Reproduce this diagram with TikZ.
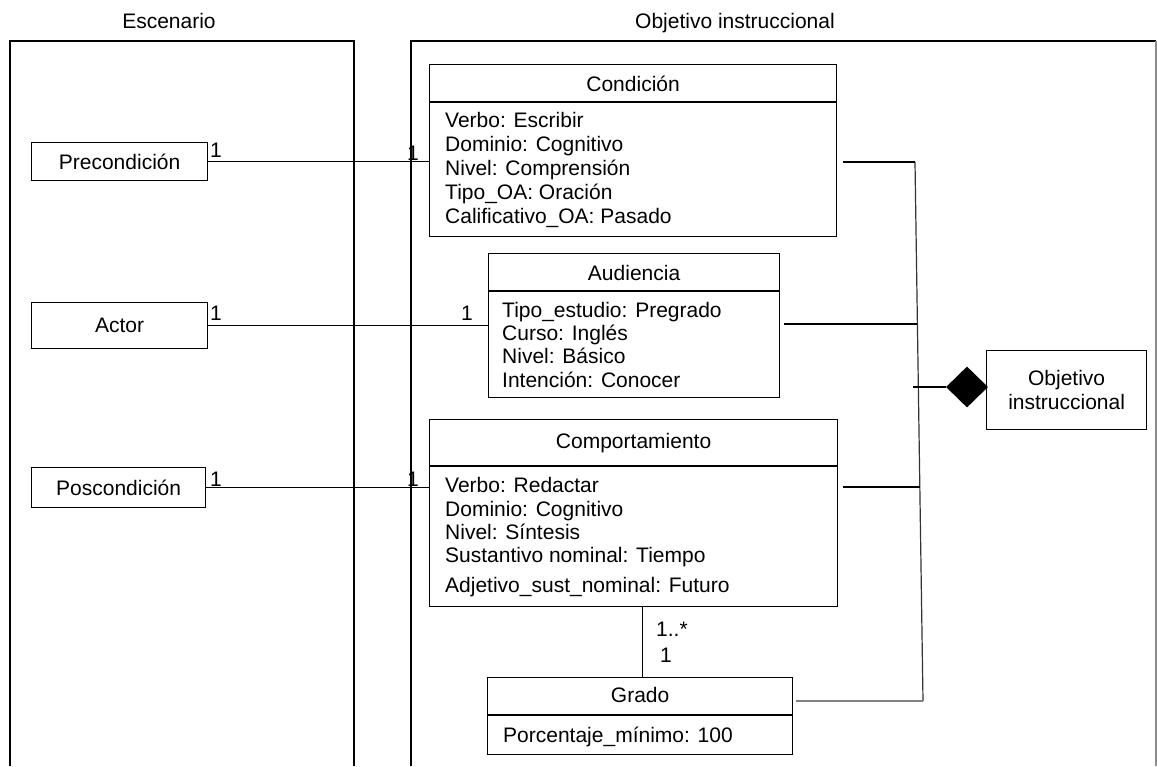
\documentclass[tikz,border=0pt]{standalone}
\usepackage{fontspec}
\setmainfont{Liberation Sans}
\usetikzlibrary{shapes.geometric}

\tikzset{
    every node/.style={font=\fontsize{21}{24}\selectfont},
    clase/.style={draw, line width=1.2pt, anchor=north west, inner sep=0},
    attr/.style={anchor=base west, inner sep=0},
    titulo/.style={anchor=base, inner sep=0},
    mult/.style={inner sep=0},
    con/.style={line width=1.2pt},
}

\begin{document}
\begin{tikzpicture}[x=1pt,y=-1pt]

    \useasboundingbox (0,0) rectangle (1157,766);

    %marcos
    \draw[con] (10,766) |- (354,41) -- (354,766);
    \draw[con] (411,766) |- (1156,41);
    \draw[con,black!45] (1156,41) -- (1156,766);
    \node[titulo] (escT) at (169,28) {Escenario};
    \node[titulo] (objT) at (735,28) {Objetivo instruccional};

    %escenario
    \node[clase, minimum width=176pt, minimum height=38pt] (pre) at (31,142) {Precondición};
    \node[clase, minimum width=176pt, minimum height=46pt] (actor) at (31,302) {Actor};
    \node[clase, minimum width=174pt, minimum height=40pt] (pos) at (31,467) {Poscondición};

    %clases
    \node[clase, minimum width=407pt, minimum height=172pt] (cond) at (429,64) {};
    \draw[con] (cond.west |- 0,102) -- (cond.east |- 0,102);
    \node[titulo] (condT) at (cond.north |- 0,91) {Condición};
    \foreach \t [count=\i] in {Verbo: Escribir, Dominio: Cognitivo, Nivel: Comprensión,
        Tipo\_OA: Oración, Calificativo\_OA: Pasado}
        \node[attr] (condA\i) at (445,103+24*\i) {\t};

    \node[clase, minimum width=291pt, minimum height=144pt] (aud) at (488,253) {};
    \draw[con] (aud.west |- 0,291) -- (aud.east |- 0,291);
    \node[titulo] (audT) at (aud.north |- 0,280) {Audiencia};
    \foreach \t [count=\i] in {Tipo\_estudio: Pregrado, Curso: Inglés, Nivel: Básico,
        Intención: Conocer}
        \node[attr] (audA\i) at (502,294+23.3*\i) {\t};

    \node[clase, minimum width=408pt, minimum height=187pt] (comp) at (429,419) {};
    \draw[con] (comp.west |- 0,466) -- (comp.east |- 0,466);
    \node[titulo] (compT) at (comp.north |- 0,448) {Comportamiento};
    \foreach \y/\t [count=\i] in {492/Verbo: Redactar, 516/Dominio: Cognitivo, 539/Nivel: Síntesis,
        562/Sustantivo nominal: Tiempo, 592/Adjetivo\_sust\_nominal: Futuro}
        \node[attr] (compA\i) at (445,\y) {\t};

    \node[clase, minimum width=305pt, minimum height=77pt] (grado) at (487,677) {};
    \draw[con] (grado.west |- 0,715) -- (grado.east |- 0,715);
    \node[titulo] (gradoT) at (grado.north |- 0,702) {Grado};
    \node[attr] (gradoA) at (503,742) {Porcentaje\_mínimo: 100};

    \node[clase, minimum width=160pt, minimum height=79pt, align=center] (obj) at (986,350)
        {Objetivo\\instruccional};
    \node[diamond, fill=black, inner sep=0, minimum width=42pt, minimum height=41pt] (diam) at (967,387) {};

    %asociaciones
    \draw[con] (pre.east) -- (pre.east -| cond.west);
    \draw[con] (actor.east) -- (actor.east -| aud.west);
    \draw[con] (pos.east) -- (pos.east -| comp.west);
    \node[mult, anchor=base west] (m1) at (210,157) {1};
    \node[mult, anchor=base east] (m2) at (419,160) {1};
    \node[mult, anchor=base west] (m3) at (210,320) {1};
    \node[mult, anchor=base east] (m4) at (473,320) {1};
    \node[mult, anchor=base west] (m5) at (210,486) {1};
    \node[mult, anchor=base east] (m6) at (419,486) {1};

    \draw[con] ([xshift=2.5pt]grado.north) -- ([xshift=2.5pt]grado.north |- comp.south);
    \node[mult, anchor=base west] (m7) at (656,636) {1..*};
    \node[mult, anchor=base west] (m8) at (660,662) {1};

    %agregacion
    \coordinate (jtop) at (915,162);
    \coordinate (jbot) at (923,701);
    \coordinate (jaud) at (917,324);
    \coordinate (jcomp) at (920,487);
    \coordinate (jdiam) at (913,387);
    \draw[con,black!80] (jtop) -- (jbot);
    \draw[con] ([xshift=6pt]cond.east |- jtop) -- (jtop);
    \draw[con] ([xshift=4pt]aud.east |- jaud) -- (jaud);
    \draw[con] ([xshift=5pt]comp.east |- jcomp) -- (jcomp);
    \draw[line width=2.4pt,black!50] ([xshift=3pt]grado.east |- jbot) -- (jbot);
    \draw[con] (jdiam) -- (diam.west);

\end{tikzpicture}
\end{document}
